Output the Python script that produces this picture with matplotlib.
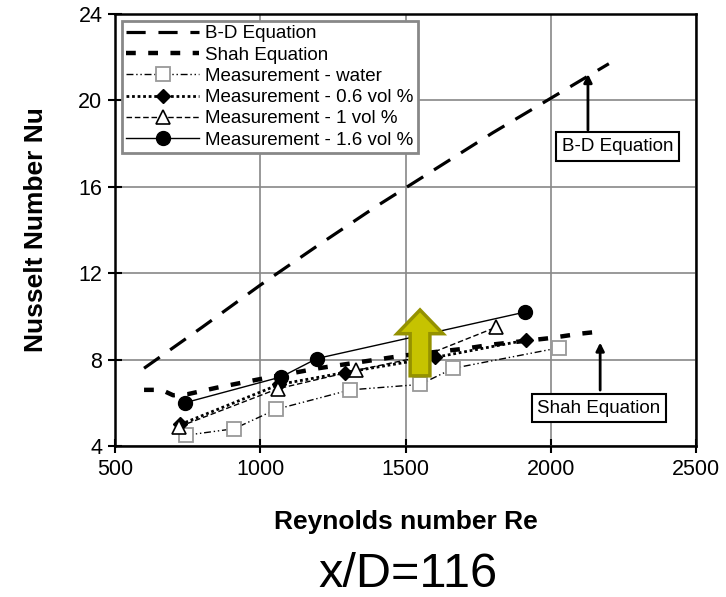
import matplotlib
matplotlib.use("Agg")
import matplotlib.pyplot as plt
from matplotlib.patches import FancyArrow

plt.rcParams['font.family'] = ['Liberation Sans', 'DejaVu Sans']

# ============ DATA ============
bd_re = [600, 800, 1000, 1200, 1400, 1600, 1800, 2000, 2200]
bd_nu = [7.6, 9.5, 11.45, 13.3, 15.1, 16.8, 18.5, 20.1, 21.7]

shah_re = [600, 660, 700, 750, 850, 1000, 1100, 1200, 1300, 1400, 1500, 1600, 1700, 1800, 1900, 2000, 2100, 2170]
shah_nu = [6.6, 6.6, 6.35, 6.4, 6.7, 7.1, 7.35, 7.6, 7.8, 8.0, 8.2, 8.35, 8.5, 8.7, 8.85, 9.0, 9.2, 9.3]

water_re = [745, 910, 1055, 1310, 1550, 1665, 2030]
water_nu = [4.5, 4.8, 5.7, 6.6, 6.85, 7.6, 8.55]

v06_re = [725, 1065, 1290, 1600, 1915]
v06_nu = [5.0, 6.85, 7.4, 8.1, 8.9]

v1_re = [722, 1060, 1330, 1560, 1812]
v1_nu = [4.9, 6.65, 7.5, 8.15, 9.5]

v16_re = [740, 1072, 1195, 1911]
v16_nu = [6.0, 7.2, 8.05, 10.2]

x_ticks = [500, 1000, 1500, 2000, 2500]
y_ticks = [4, 8, 12, 16, 20, 24]

# ============ FIGURE ============
fig = plt.figure(figsize=(7.26, 5.97), dpi=100)
ax = fig.add_axes([0.1584, 0.2529, 0.8003, 0.7236])

ax.plot(bd_re, bd_nu, color='black', lw=2.3, linestyle=(0, (6, 4)), label='B-D Equation')
ax.plot(shah_re, shah_nu, color='black', lw=3.2, linestyle=(0, (2.2, 2.8)), label='Shah Equation')
ax.plot(water_re, water_nu, color='black', lw=1, linestyle=(0, (5, 2, 1, 2, 1, 2)),
        marker='s', ms=10, mfc='white', mec='#999999', mew=1.3, label='Measurement - water')
ax.plot(v06_re, v06_nu, color='black', lw=2, linestyle=(0, (1, 1)),
        marker='D', ms=7, mfc='black', mec='black', label='Measurement - 0.6 vol %')
ax.plot(v1_re, v1_nu, color='black', lw=1, linestyle=(0, (4, 2)),
        marker='^', ms=10, mfc='white', mec='black', mew=1.2, label='Measurement - 1 vol %')
ax.plot(v16_re, v16_nu, color='black', lw=1, linestyle='-',
        marker='o', ms=10, mfc='black', mec='black', label='Measurement - 1.6 vol %')

# yellow up arrow
arrow = FancyArrow(1550, 7.25, 0, 3.05, width=68, head_width=158, head_length=1.1,
                   length_includes_head=True, facecolor='#c6c300', edgecolor='#949100', lw=2.5, zorder=5)
ax.add_patch(arrow)

# callouts
ax.text(2231, 17.87, 'B-D Equation', fontsize=13.5, ha='center', va='center',
        bbox=dict(boxstyle='square,pad=0.3', fc='white', ec='black', lw=1.5))
ax.annotate('', xy=(2128, 21.35), xytext=(2128, 18.5),
            arrowprops=dict(arrowstyle='-|>', color='black', lw=2, mutation_scale=12))
ax.text(2166, 5.76, 'Shah Equation', fontsize=13.5, ha='center', va='center',
        bbox=dict(boxstyle='square,pad=0.3', fc='white', ec='black', lw=1.5))
ax.annotate('', xy=(2170, 8.92), xytext=(2170, 6.46),
            arrowprops=dict(arrowstyle='-|>', color='black', lw=2, mutation_scale=12))

ax.set_xlim(500, 2500)
ax.set_ylim(4, 24)
ax.set_xticks(x_ticks)
ax.set_yticks(y_ticks)
ax.tick_params(direction='inout', length=10, width=1.5, labelsize=15.5, pad=4)
ax.grid(True, color='#888888', lw=1.2)
ax.set_axisbelow(True)
for s in ax.spines.values():
    s.set_linewidth(1.8)

ax.set_xlabel('Reynolds number Re', fontsize=19, fontweight='bold', labelpad=22)
ax.set_ylabel('Nusselt Number Nu', fontsize=19, fontweight='bold', labelpad=22)

leg = ax.legend(loc='upper left', bbox_to_anchor=(0, 1), borderaxespad=0.35, fontsize=13.5,
                numpoints=1, handlelength=3.9, handletextpad=0.3, labelspacing=0.22,
                borderpad=0.25, fancybox=False, framealpha=1)
leg.get_frame().set_edgecolor('#888888')
leg.get_frame().set_linewidth(2)

fig.text(0.562, 0.038, 'x/D=116', fontsize=35, ha='center', va='center')

plt.savefig('out.png', dpi=100)
